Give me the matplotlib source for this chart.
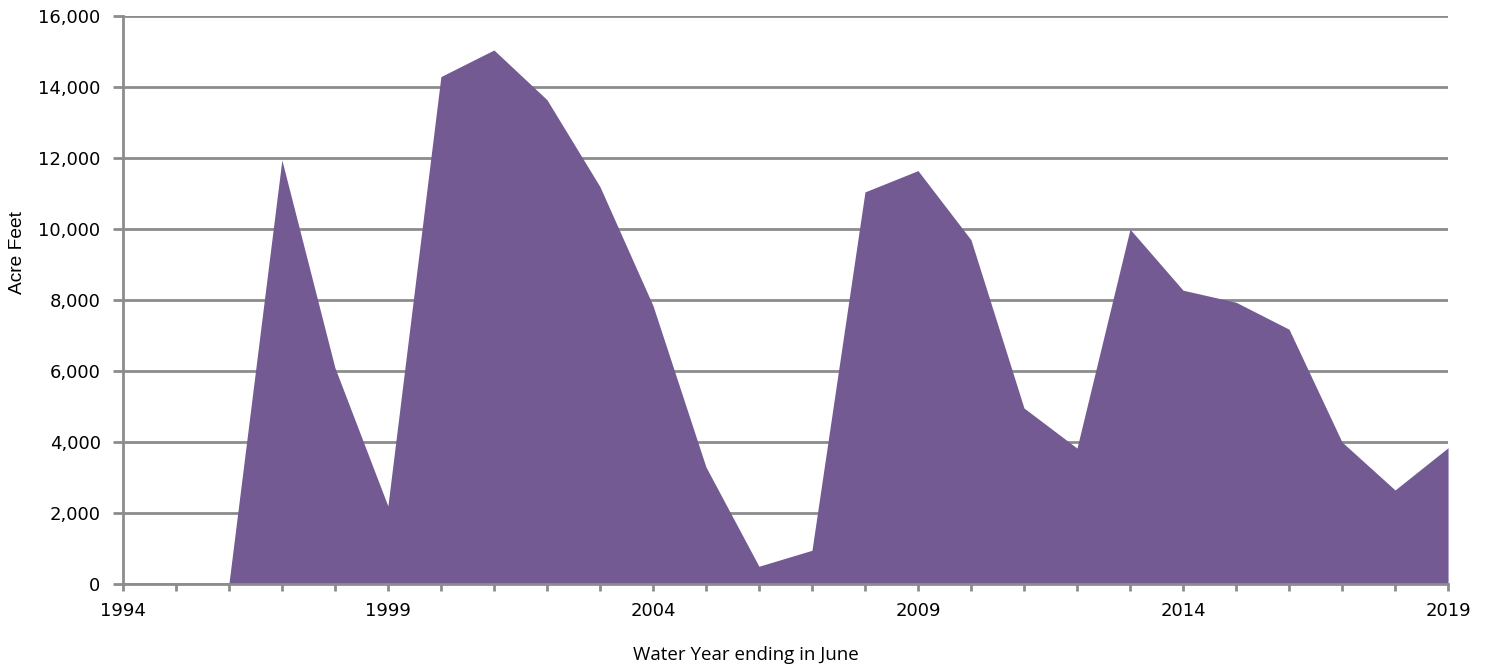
import numpy as np
import matplotlib.pyplot as plt
from matplotlib.ticker import MultipleLocator, FixedLocator, FuncFormatter

# Dane
years = [1996, 1997, 1998, 1999, 2000, 2001, 2002, 2003, 2004, 2005, 2006, 2007,
         2008, 2009, 2010, 2011, 2012, 2013, 2014, 2015, 2016, 2017, 2018, 2019]
acre_feet = [0, 11950, 6100, 2200, 14300, 15050, 13650, 11200, 7850, 3300, 500, 950,
             11050, 11650, 9700, 4960, 3830, 10000, 8280, 7940, 7180, 4000, 2650, 3840]
year_ticks = [1994, 1999, 2004, 2009, 2014, 2019]

grey = "#8c8c8c"

fig = plt.figure(figsize=(14.89, 6.64), dpi=100)
ax = fig.add_axes([0.0825, 0.1205, 0.8900, 0.855])

ax.fill_between(years, acre_feet, 0, color="#735a93", linewidth=0)

ax.set_xlim(1994, 2019)
ax.set_ylim(0, 16000)
ax.xaxis.set_major_locator(FixedLocator(year_ticks))
ax.xaxis.set_minor_locator(MultipleLocator(1))
ax.yaxis.set_major_locator(MultipleLocator(2000))
ax.yaxis.set_major_formatter(FuncFormatter(lambda v, p: f"{int(v):,}"))

ax.grid(True, axis="y", color=grey, linewidth=2)
ax.set_axisbelow(True)
for s in ["top", "right"]:
    ax.spines[s].set_visible(False)
for s in ["left", "bottom"]:
    ax.spines[s].set_color(grey)
    ax.spines[s].set_linewidth(2)

ax.tick_params(axis="y", length=7, width=2, color=grey, labelsize=13, pad=9)
ax.tick_params(axis="x", which="both", length=5, width=2, color=grey, labelsize=13, pad=8)

ax.set_ylabel("Acre Feet", fontsize=13.8, family="Liberation Sans", va="center")
ax.yaxis.set_label_coords(-0.0795, 0.583)
ax.set_xlabel("Water Year ending in June", fontsize=13.5, family="Open Sans", va="center")
ax.xaxis.set_label_coords(0.47, -0.125)

fig.savefig("out.png", dpi=100)
